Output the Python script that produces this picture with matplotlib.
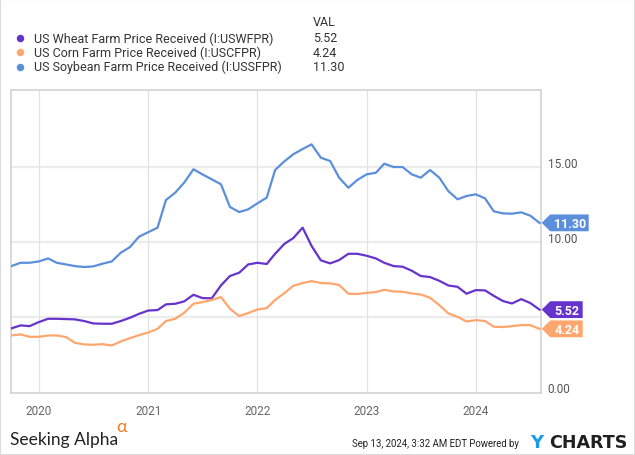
import numpy as np
import pandas as pd
import matplotlib
matplotlib.use("Agg")
import matplotlib.pyplot as plt
import matplotlib.dates as mdates
import matplotlib.transforms as mtransforms
from matplotlib.patches import Polygon, Rectangle
from matplotlib.lines import Line2D

plt.rcParams['font.family'] = ['Roboto', 'DejaVu Sans']

# ---------------- data ----------------
dates = pd.date_range('2019-10-01', periods=59, freq='MS')

wheat = [4.27, 4.47, 4.42, 4.69, 4.91, 4.91, 4.89, 4.87, 4.76, 4.60, 4.58, 4.58,
         4.76, 4.98, 5.24, 5.46, 5.49, 5.87, 5.91, 6.07, 6.51, 6.29, 6.27, 7.13,
         7.76, 7.98, 8.53, 8.64, 8.56, 9.24, 9.90, 10.29, 10.98, 9.76, 8.80, 8.60,
         8.82, 9.24, 9.24, 9.11, 8.93, 8.64, 8.42, 8.38, 8.11, 7.76, 7.69, 7.44,
         7.13, 7.04, 6.58, 6.82, 6.80, 6.44, 6.09, 5.93, 6.22, 5.96, 5.52]

corn = [3.80, 3.87, 3.71, 3.71, 3.80, 3.80, 3.69, 3.31, 3.20, 3.18, 3.22, 3.13,
        3.40, 3.62, 3.82, 4.00, 4.24, 4.76, 4.91, 5.31, 5.91, 6.02, 6.16, 6.36,
        5.58, 5.09, 5.29, 5.53, 5.62, 6.16, 6.62, 7.11, 7.29, 7.42, 7.29, 7.27,
        7.16, 6.58, 6.56, 6.64, 6.69, 6.84, 6.73, 6.71, 6.60, 6.53, 6.31, 5.82,
        5.27, 5.04, 4.73, 4.82, 4.76, 4.38, 4.36, 4.42, 4.49, 4.49, 4.24]

soy = [8.42, 8.64, 8.64, 8.73, 8.93, 8.64, 8.53, 8.42, 8.36, 8.40, 8.58, 8.73,
       9.31, 9.69, 10.38, 10.68, 10.98, 12.82, 13.31, 13.98, 14.87, 14.53, 14.20, 13.87,
       12.36, 12.02, 12.20, 12.60, 12.98, 14.82, 15.40, 15.87, 16.22, 16.53, 15.64, 15.42,
       14.31, 13.64, 14.16, 14.53, 14.64, 15.24, 15.02, 15.02, 14.53, 14.31, 14.82, 14.31,
       13.42, 12.87, 13.09, 13.20, 12.93, 12.07, 11.93, 11.91, 12.00, 11.78, 11.30]

names = ['US Wheat Farm Price Received (I:USWFPR)',
         'US Corn Farm Price Received (I:USCFPR)',
         'US Soybean Farm Price Received (I:USSFPR)']
colors = ['#6633cc', '#ffa66e', '#5b8fdb']
series = [wheat, corn, soy]

ytick_vals = [0, 10, 15]
ytick_labels = ['0.00', '10.00', '15.00']
grid_vals = [5, 10, 15]

# ---------------- figure ----------------
W, H = 635, 456
fig = plt.figure(figsize=(W / 100, H / 100), dpi=100)
fig.patches.append(Rectangle((0, 0), 1, 1, transform=fig.transFigure,
                             fill=False, edgecolor='#dcdcdc', lw=1.5))

ax = fig.add_axes([10.7 / W, 1 - 393.5 / H, 530 / W, 302.5 / H])
ax.set_facecolor('white')

for g in grid_vals:
    ax.axhline(g, color='#ececec', lw=1.6, zorder=0)
for yr in range(2020, 2025):
    ax.axvline(pd.Timestamp(f'{yr}-01-01'), color='#e2e2e2', lw=0.9, zorder=0)

for vals, c in zip(series, colors):
    ax.plot(dates, vals, color=c, lw=1.6, solid_joinstyle='round', zorder=3)

ax.set_xlim(dates[0] - pd.Timedelta(days=2), dates[-1] + pd.Timedelta(days=4))
ax.set_ylim(0, 20.15)

for s in ax.spines.values():
    s.set_color('#d0d0d0')
    s.set_linewidth(1.1)

ax.xaxis.set_major_locator(mdates.YearLocator())
ax.xaxis.set_major_formatter(mdates.DateFormatter('%Y'))
ax.tick_params(axis='x', length=0, pad=8, labelsize=8.5, labelcolor='#666666')

ax.yaxis.tick_right()
ax.set_yticks(ytick_vals)
ax.set_yticklabels(ytick_labels)
ax.tick_params(axis='y', length=0, pad=5, labelsize=8.5, labelcolor='#555555')
for lab in ax.get_yticklabels():
    lab.set_transform(lab.get_transform() +
                      mtransforms.ScaledTranslation(0, 5 / 100, fig.dpi_scale_trans))

# ---------------- end tags ----------------
x_edge = ax.get_xlim()[1]
tag_w = [42, 42, 48]
for vals, c, w in zip(series, colors, tag_w):
    yv = vals[-1]
    h = 8.4
    a = 8.5
    verts = [(1, 0), (1 + a, h), (w, h), (w, -h), (1 + a, -h)]
    tr = mtransforms.Affine2D() + mtransforms.ScaledTranslation(x_edge, yv, ax.transData)
    poly = Polygon(verts, closed=True, transform=tr, facecolor=c, edgecolor='none',
                   clip_on=False, zorder=5)
    ax.add_patch(poly)
    ax.annotate(f'{yv:.2f}', xy=(x_edge, yv), xytext=((1 + a + w) / 2 * 0.72 + 0.3, -0.3),
                textcoords='offset points', ha='center', va='center', color='white',
                fontsize=9, fontweight='bold', annotation_clip=False, zorder=6)

# ---------------- legend ----------------
fig.text(313 / W, 1 - 22.3 / H, 'VAL', ha='left', va='center', fontsize=9, color='#333333')
rows_y = [39, 53.3, 67.5]
for name, c, vals, ry in zip(names, colors, series, rows_y):
    yy = 1 - ry / H
    fig.add_artist(Line2D([20 / W], [yy], marker='o', markersize=5.4, color=c,
                          markeredgewidth=0, transform=fig.transFigure))
    fig.text(34 / W, yy, name, ha='left', va='center', fontsize=9, color='#333333')
    fig.text(313 / W, yy, f'{vals[-1]:.2f}', ha='left', va='center', fontsize=9, color='#333333')

# ---------------- footer ----------------
fig.text(10 / W, 1 - 445.5 / H, 'Seeking Alpha', ha='left', va='baseline',
         fontsize=12.5, color='#222222', family=['Lato', 'DejaVu Sans'])
fig.text(116 / W, 1 - 432 / H, 'α', ha='left', va='baseline',
         fontsize=13, color='#f07b1e', family=['Lato', 'DejaVu Sans'])
fig.text(518.5 / W, 1 - 447.5 / H, 'Sep 13, 2024, 3:32 AM EDT Powered by', ha='right',
         va='baseline', fontsize=6.9, color='#222222')
fig.text(530.5 / W, 1 - 448.3 / H, 'Y', ha='left', va='baseline', fontsize=13,
         fontweight='bold', color='#1a9be6', family=['DejaVu Sans'])
fig.text(549.5 / W, 1 - 448.3 / H, 'CHARTS', ha='left', va='baseline', fontsize=12.6,
         fontweight='bold', color='#1f1f1f', family=['DejaVu Sans'])

fig.savefig('out.png', dpi=100)
